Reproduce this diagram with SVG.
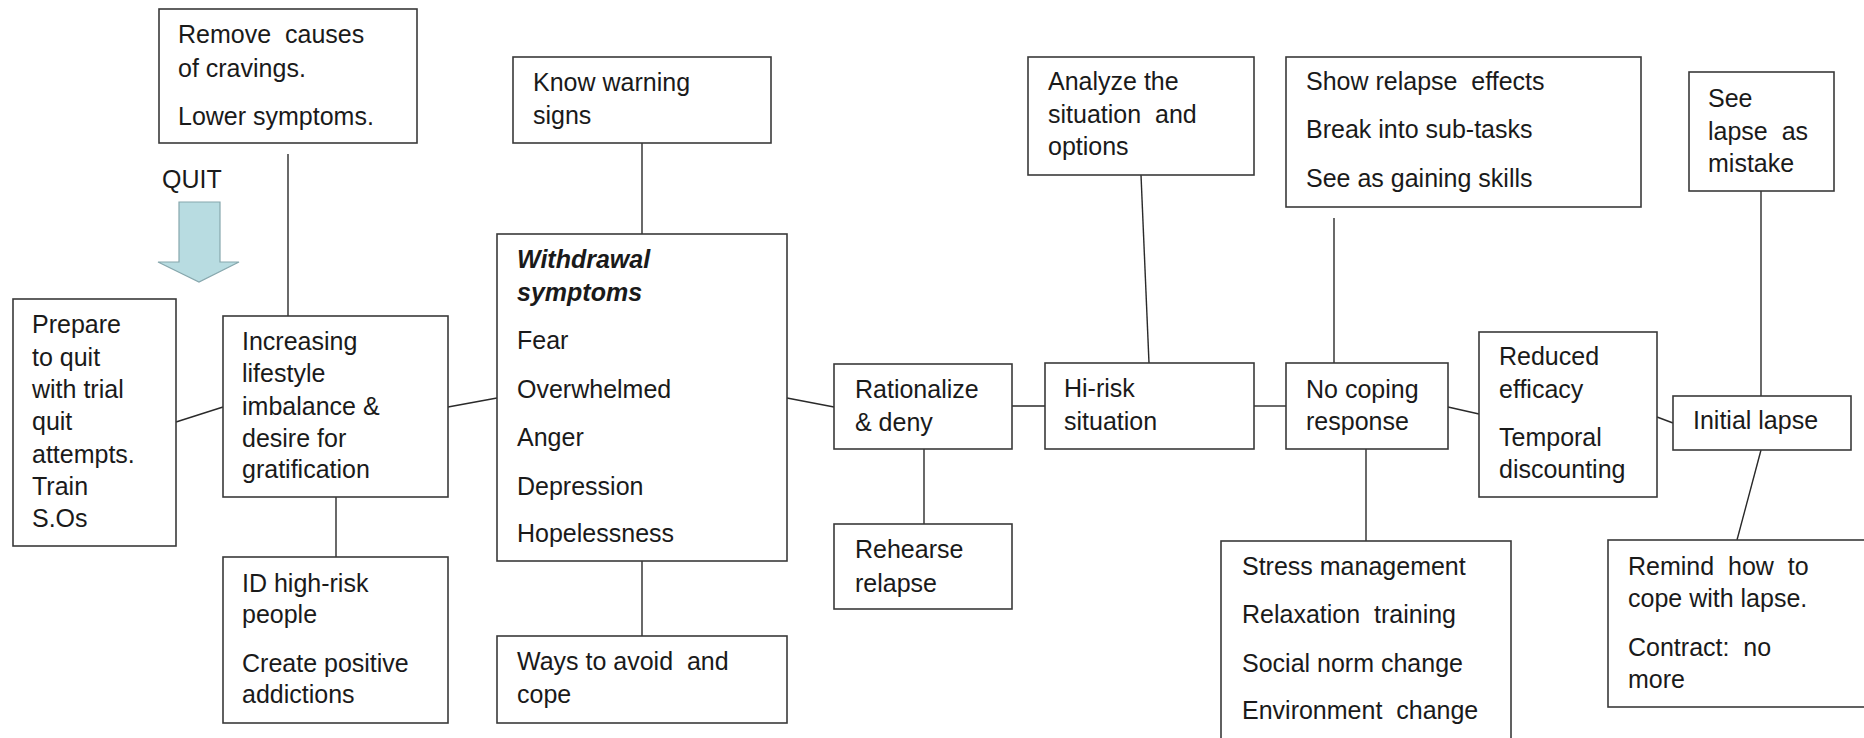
<svg xmlns="http://www.w3.org/2000/svg" width="1864" height="738" viewBox="0 0 1864 738">
<style>
.box{fill:#fff;stroke:#3a3a3a;stroke-width:1.6}
.t{font-family:"Liberation Sans",Arial,sans-serif;font-size:25px;fill:#1a1a1a;white-space:pre}
.bi{font-weight:bold;font-style:italic}
.c line{stroke:#2a2a2a;stroke-width:1.4}
</style>
<rect width="1864" height="738" fill="#fff"/>
<g class="c" id="connectors">
<line x1="288" y1="154" x2="288" y2="316"/>
<line x1="176" y1="422" x2="223" y2="407"/>
<line x1="336" y1="497" x2="336" y2="557"/>
<line x1="448" y1="407" x2="497" y2="398"/>
<line x1="642" y1="143" x2="642" y2="234"/>
<line x1="642" y1="561" x2="642" y2="636"/>
<line x1="787" y1="398" x2="834" y2="407"/>
<line x1="924" y1="449" x2="924" y2="524"/>
<line x1="1012" y1="406" x2="1045" y2="406"/>
<line x1="1141" y1="175" x2="1149" y2="363"/>
<line x1="1254" y1="406" x2="1286" y2="406"/>
<line x1="1334" y1="218" x2="1334" y2="363"/>
<line x1="1366" y1="449" x2="1366" y2="541"/>
<line x1="1448" y1="407" x2="1479" y2="414"/>
<line x1="1657" y1="417" x2="1673" y2="423"/>
<line x1="1761" y1="191" x2="1761" y2="396"/>
<line x1="1761" y1="450" x2="1737" y2="540"/>
</g>
<g id="quit">
<text class="t" x="162" y="188">QUIT</text>
<polygon points="179,202 220,202 220,262 239,262 199,282 158,262 179,262" fill="#b8dce1" stroke="#86a7ad" stroke-width="1.2"/>
</g>
<g id="remove">
<rect class="box" x="159" y="9" width="258" height="134"/>
<text class="t" x="178" y="43" xml:space="preserve">Remove  causes</text>
<text class="t" x="178" y="77">of cravings.</text>
<text class="t" x="178" y="125">Lower symptoms.</text>
</g>
<g id="prepare">
<rect class="box" x="13" y="299" width="163" height="247"/>
<text class="t" x="32" y="333">Prepare</text>
<text class="t" x="32" y="366">to quit</text>
<text class="t" x="32" y="398">with trial</text>
<text class="t" x="32" y="430">quit</text>
<text class="t" x="32" y="463">attempts.</text>
<text class="t" x="32" y="495">Train</text>
<text class="t" x="32" y="527">S.Os</text>
</g>
<g id="increasing">
<rect class="box" x="223" y="316" width="225" height="181"/>
<text class="t" x="242" y="350">Increasing</text>
<text class="t" x="242" y="382">lifestyle</text>
<text class="t" x="242" y="415">imbalance &amp;</text>
<text class="t" x="242" y="447">desire for</text>
<text class="t" x="242" y="478">gratification</text>
</g>
<g id="id-high-risk">
<rect class="box" x="223" y="557" width="225" height="166"/>
<text class="t" x="242" y="592">ID high-risk</text>
<text class="t" x="242" y="623">people</text>
<text class="t" x="242" y="672">Create positive</text>
<text class="t" x="242" y="703">addictions</text>
</g>
<g id="know">
<rect class="box" x="513" y="57" width="258" height="86"/>
<text class="t" x="533" y="91">Know warning</text>
<text class="t" x="533" y="124">signs</text>
</g>
<g id="withdrawal">
<rect class="box" x="497" y="234" width="290" height="327"/>
<text class="t bi" x="517" y="268">Withdrawal</text>
<text class="t bi" x="517" y="301">symptoms</text>
<text class="t" x="517" y="349">Fear</text>
<text class="t" x="517" y="398">Overwhelmed</text>
<text class="t" x="517" y="446">Anger</text>
<text class="t" x="517" y="495">Depression</text>
<text class="t" x="517" y="542">Hopelessness</text>
</g>
<g id="ways">
<rect class="box" x="497" y="636" width="290" height="87"/>
<text class="t" x="517" y="670" xml:space="preserve">Ways to avoid  and</text>
<text class="t" x="517" y="703">cope</text>
</g>
<g id="rationalize">
<rect class="box" x="834" y="364" width="178" height="85"/>
<text class="t" x="855" y="398">Rationalize</text>
<text class="t" x="855" y="431">&amp; deny</text>
</g>
<g id="rehearse">
<rect class="box" x="834" y="524" width="178" height="85"/>
<text class="t" x="855" y="558">Rehearse</text>
<text class="t" x="855" y="592">relapse</text>
</g>
<g id="analyze">
<rect class="box" x="1028" y="57" width="226" height="118"/>
<text class="t" x="1048" y="90">Analyze the</text>
<text class="t" x="1048" y="123" xml:space="preserve">situation  and</text>
<text class="t" x="1048" y="155">options</text>
</g>
<g id="hi-risk">
<rect class="box" x="1045" y="363" width="209" height="86"/>
<text class="t" x="1064" y="397">Hi-risk</text>
<text class="t" x="1064" y="430">situation</text>
</g>
<g id="show">
<rect class="box" x="1286" y="57" width="355" height="150"/>
<text class="t" x="1306" y="90" xml:space="preserve">Show relapse  effects</text>
<text class="t" x="1306" y="138">Break into sub-tasks</text>
<text class="t" x="1306" y="187">See as gaining skills</text>
</g>
<g id="no-coping">
<rect class="box" x="1286" y="363" width="162" height="86"/>
<text class="t" x="1306" y="398">No coping</text>
<text class="t" x="1306" y="430">response</text>
</g>
<g id="stress">
<rect class="box" x="1221" y="541" width="290" height="215"/>
<text class="t" x="1242" y="575">Stress management</text>
<text class="t" x="1242" y="623" xml:space="preserve">Relaxation  training</text>
<text class="t" x="1242" y="672">Social norm change</text>
<text class="t" x="1242" y="719" xml:space="preserve">Environment  change</text>
</g>
<g id="reduced">
<rect class="box" x="1479" y="332" width="178" height="165"/>
<text class="t" x="1499" y="365">Reduced</text>
<text class="t" x="1499" y="398">efficacy</text>
<text class="t" x="1499" y="446">Temporal</text>
<text class="t" x="1499" y="478">discounting</text>
</g>
<g id="see">
<rect class="box" x="1689" y="72" width="145" height="119"/>
<text class="t" x="1708" y="107">See</text>
<text class="t" x="1708" y="140" xml:space="preserve">lapse  as</text>
<text class="t" x="1708" y="172">mistake</text>
</g>
<g id="initial">
<rect class="box" x="1673" y="396" width="178" height="54"/>
<text class="t" x="1693" y="429">Initial lapse</text>
</g>
<g id="remind">
<rect class="box" x="1608" y="540" width="262" height="167"/>
<text class="t" x="1628" y="575" xml:space="preserve">Remind  how  to</text>
<text class="t" x="1628" y="607">cope with lapse.</text>
<text class="t" x="1628" y="656" xml:space="preserve">Contract:  no</text>
<text class="t" x="1628" y="688">more</text>
</g>
</svg>
